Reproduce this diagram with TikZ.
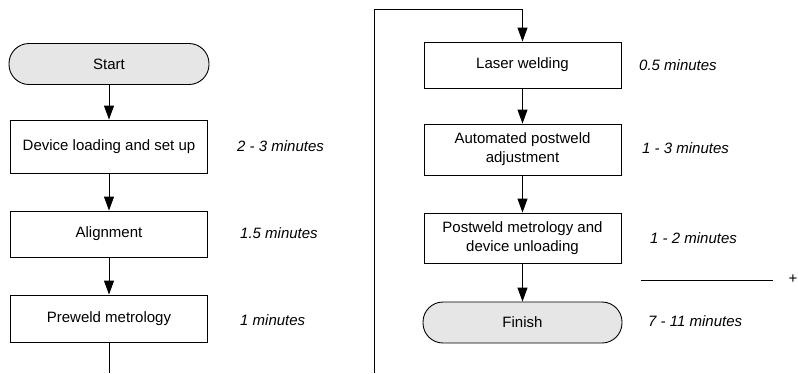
\documentclass[tikz,border=0pt]{standalone}
\usepackage{fontspec}
\setmainfont{Liberation Sans}
\usetikzlibrary{arrows.meta}
\definecolor{termgray}{HTML}{E6E6E6}
\tikzset{
  base/.style={draw, line width=0.9pt, inner sep=0pt, align=center, font=\fontsize{15}{19}\selectfont},
  proc/.style={base, rectangle, minimum width=197pt},
  term/.style={base, rectangle, rounded corners=20pt, fill=termgray, minimum width=200pt, minimum height=41pt},
  lbl/.style={anchor=west, inner sep=0pt, font=\fontsize{15}{19}\selectfont\itshape},
  conn/.style={line width=0.9pt},
  arr/.style={conn, -{Triangle[length=14pt, width=10pt]}}
}
\begin{document}
\begin{tikzpicture}[x=1pt,y=-1pt]
\useasboundingbox (0,0) rectangle (798,373);
% left column
\node[term] (start) at (109,64) {Start};
\node[proc, minimum height=53pt] (dev) at (109,146.5) {Device loading and set up};
\node[proc, minimum height=46pt] (ali) at (109,234) {Alignment};
\node[proc, minimum height=47pt] (pre) at (109,318.5) {Preweld metrology};
\coordinate (lbot) at (109,373);
% right column
\node[proc, minimum height=46pt] (las) at (522.5,65) {Laser welding};
\node[proc, minimum height=51pt] (aut) at (522.5,149.5) {Automated postweld\\adjustment};
\node[proc, minimum height=50pt] (pos) at (522.5,238) {Postweld metrology and\\device unloading};
\node[term, minimum width=199pt] (fin) at (522.5,322.5) {Finish};
\coordinate (rbot) at (374,373);
\coordinate (rtop) at (374,9);
\coordinate (ltop) at (522.5,9);
% sum line
\coordinate (s1) at (641,280);
\coordinate (s2) at (773,280);
\node[font=\fontsize{15}{19}\selectfont, inner sep=0pt] (plus) at (793,279) {+};
% labels
\node[lbl] (t1) at (237,146) {2 - 3 minutes};
\node[lbl] (t2) at (240,233) {1.5 minutes};
\node[lbl] (t3) at (240,320) {1 minutes};
\node[lbl] (t4) at (639,65) {0.5 minutes};
\node[lbl] (t5) at (642,148) {1 - 3 minutes};
\node[lbl] (t6) at (650,238) {1 - 2 minutes};
\node[lbl] (t7) at (648,321) {7 - 11 minutes};
% connectors
\draw[arr] (start) -- (dev);
\draw[arr] (dev) -- (ali);
\draw[arr] (ali) -- (pre);
\draw[conn] (pre) -- (lbot);
\draw[arr] (rbot) -- (rtop) -- (ltop) -- (las);
\draw[arr] (las) -- (aut);
\draw[arr] (aut) -- (pos);
\draw[arr] (pos) -- (fin);
\draw[conn] (s1) -- (s2);
\end{tikzpicture}
\end{document}
